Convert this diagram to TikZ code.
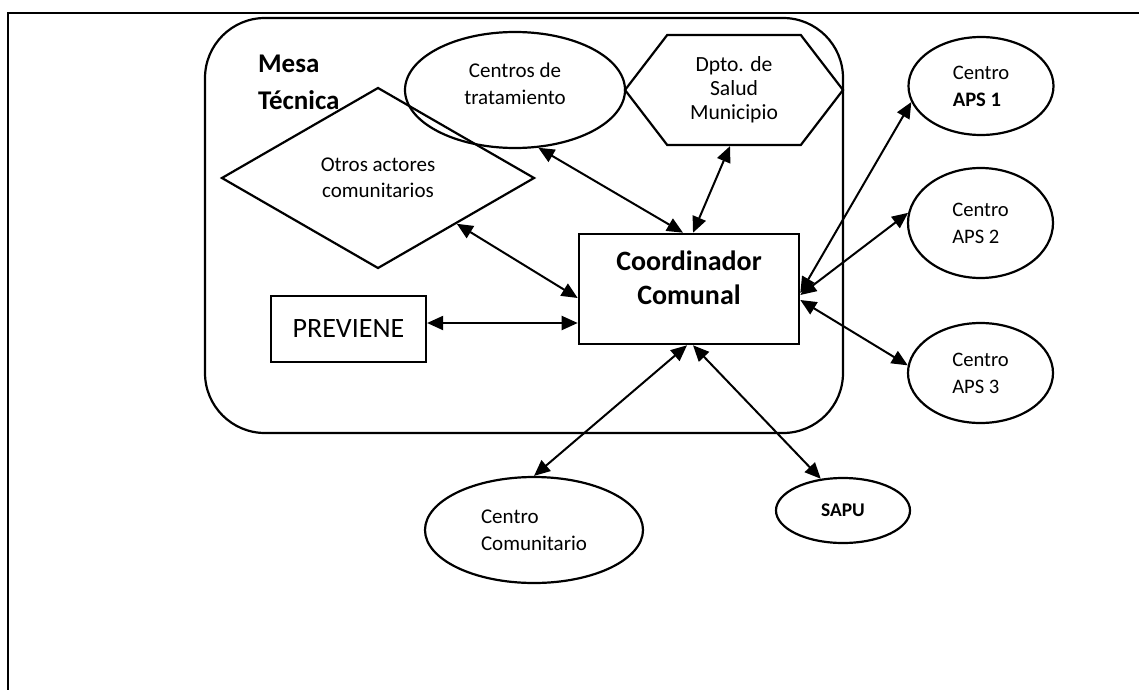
\documentclass[tikz,border=0pt]{standalone}
\usepackage{fontspec}
\setmainfont{Carlito}
\usetikzlibrary{shapes.geometric,shapes.symbols,arrows.meta}

\begin{document}
\begin{tikzpicture}[x=0.5pt,y=-0.5pt,
    outline/.style={draw, line width=1.1pt},
    txt/.style={font=\fontsize{10.5}{13.5}\selectfont, align=center},
    aps/.style={outline, ellipse, minimum width=72.5pt, font=\fontsize{10.3}{13.5}\selectfont, align=left},
    link/.style={{Triangle[length=8pt,width=7pt]}-{Triangle[length=8pt,width=7pt]}, line width=1pt}]
    \useasboundingbox (0,0) rectangle (1139,690);
    \draw[line width=1.3pt] (1139,13) -- (8,13) -- (8,690);
    \node[outline, rounded corners=30pt, minimum width=319pt, minimum height=207.5pt] (mesa) at (524,225.5) {};
    \node[anchor=west, align=left, font=\bfseries\fontsize{13.5}{18.5}\selectfont] (mesalbl) at (251,82) {Mesa\\Técnica};
    \node[outline, ellipse, txt, minimum width=110pt, minimum height=58pt, text depth=6pt] (trat) at (515,90) {Centros de\\tratamiento};
    \node[outline, signal, signal to=west and east, signal pointer angle=105, txt, font=\fontsize{10.8}{12}\selectfont,
          minimum width=109pt, minimum height=55pt] (dpto) at (734,90) {Dpto. de\\Salud\\Municipio};
    \node[outline, diamond, txt, font=\fontsize{10.5}{13}\selectfont, minimum width=156.5pt, minimum height=77pt] (otros) at (378,178) {Otros actores\\comunitarios};
    \node[outline, minimum width=77.5pt, minimum height=33pt, font=\fontsize{14}{17}\selectfont] (prev) at (348.5,329) {PREVIENE};
    \node[outline, line width=1.3pt, minimum width=110pt, minimum height=55pt, align=center, text depth=11pt,
          font=\bfseries\fontsize{14}{17}\selectfont] (coord) at (689,289) {Coordinador\\Comunal};
    \node[aps, minimum height=49pt] (aps1) at (981,86) {Centro\\\textbf{APS 1}};
    \node[aps, minimum height=55pt] (aps2) at (980.5,223) {Centro\\APS 2};
    \node[aps, minimum height=50pt] (aps3) at (980.5,373) {Centro\\APS 3};
    \node[outline, ellipse, txt, align=left, minimum width=109pt, minimum height=53pt] (comu) at (534,530) {Centro\\Comunitario};
    \node[outline, ellipse, minimum width=67pt, minimum height=32.5pt, font=\bfseries\fontsize{9.7}{12}\selectfont] (sapu) at (843,510.5) {SAPU};
    \coordinate (pv) at ([yshift=3pt]prev.east);
    \draw[link] (trat.-68) -- ([xshift=-3pt]coord.north);
    \draw[link] ([xshift=-2pt]dpto.south) -- ([xshift=2pt]coord.north);
    \draw[link] (otros.south east) -- ([yshift=-4.5pt]coord.west);
    \draw[link] (pv) -- (pv -| coord.west);
    \draw[link] ([yshift=-2pt]coord.east) -- (aps1.193);
    \draw[link] ([yshift=-3pt]coord.east) -- (aps2.172);
    \draw[link] ([yshift=-5.5pt]coord.east) -- (aps3.174);
    \draw[link] ([xshift=-1pt]coord.south) -- (comu.north);
    \draw[link] ([xshift=2pt]coord.south) -- (sapu.125);
\end{tikzpicture}
\end{document}
